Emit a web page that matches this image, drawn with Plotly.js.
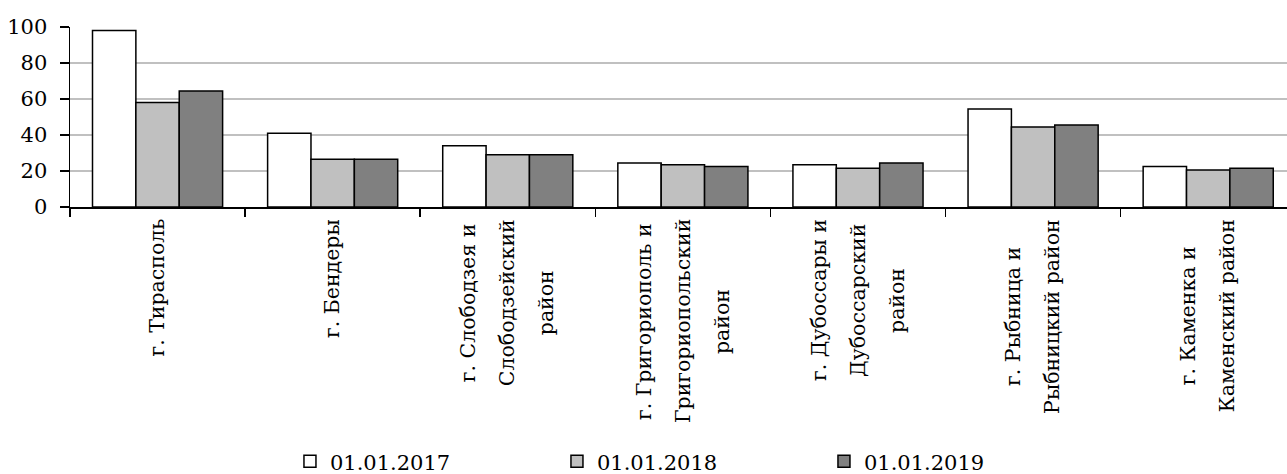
<!DOCTYPE html>
<html>
<head>
<meta charset="utf-8">
<script src="https://cdn.plot.ly/plotly-3.0.1.min.js"></script>
<style>
html,body{margin:0;padding:0;background:#fff;}
#chart{width:1287px;height:474px;}
</style>
</head>
<body>
<div id="chart"></div>
<script>
// ---- data ----
const categories = [
  "г. Тирасполь",
  "г. Бендеры",
  "г. Слободзея и Слободзейский район",
  "г. Григориополь и Григориопольский район",
  "г. Дубоссары и Дубоссарский район",
  "г. Рыбница и Рыбницкий район",
  "г. Каменка и Каменский район"
];
const labelLines = [
  ["г. Тирасполь"],
  ["г. Бендеры"],
  ["г. Слободзея и", "Слободзейский", "район"],
  ["г. Григориополь и", "Григориопольский", "район"],
  ["г. Дубоссары и", "Дубоссарский", "район"],
  ["г. Рыбница и", "Рыбницкий район"],
  ["г. Каменка и", "Каменский район"]
];
const seriesNames = ["01.01.2017", "01.01.2018", "01.01.2019"];
const values2017 = [98, 41, 34, 24.5, 23.5, 54.5, 22.5];
const values2018 = [58, 26.5, 29, 23.5, 21.5, 44.5, 20.5];
const values2019 = [64.5, 26.5, 29, 22.5, 24.5, 45.5, 21.5];
const yTicks = [0, 20, 40, 60, 80, 100];

// ---- styling ----
const FONT = "'DejaVu Serif', 'Liberation Serif', serif";
const fills = ["#ffffff", "#c0c0c0", "#808080"];
const allValues = [values2017, values2018, values2019];

const traces = allValues.map((v, k) => ({
  type: "bar",
  name: seriesNames[k],
  x: categories,
  y: v,
  marker: {color: fills[k], line: {color: "#000000", width: 1.5}},
  hoverinfo: "skip"
}));

// measure text to center lines of each multi-line label
const cv = document.createElement("canvas").getContext("2d");
const labelSize = 20.5;
cv.font = labelSize + "px " + FONT;
const annotations = [];
labelLines.forEach((lines, i) => {
  const maxLen = Math.max(...lines.map(s => cv.measureText(s).width));
  const n = lines.length;
  lines.forEach((s, j) => {
    annotations.push({
      x: categories[i], xref: "x",
      y: 0, yref: "paper",
      text: s,
      textangle: -90,
      showarrow: false,
      xanchor: "center", yanchor: "middle",
      xshift: (j - (n - 1) / 2) * 39,
      yshift: -(12 + maxLen / 2),
      font: {family: FONT, size: labelSize, color: "#000"}
    });
  });
});

const layout = {
  width: 1287, height: 474,
  margin: {l: 70, r: 0, t: 27, b: 267, pad: 0},
  paper_bgcolor: "#fff", plot_bgcolor: "#fff",
  font: {family: FONT, color: "#000"},
  barmode: "group",
  bargap: 0.257,
  bargroupgap: 0,
  showlegend: true,
  legend: {
    orientation: "h",
    xref: "container", yref: "container",
    x: 0.2253, xanchor: "left",
    y: 0.026, yanchor: "middle",
    font: {family: FONT, size: 21, color: "#000"},
    entrywidth: 222, entrywidthmode: "pixels",
    traceorder: "normal",
    bgcolor: "rgba(0,0,0,0)"
  },
  xaxis: {
    type: "category",
    range: [-0.5, 6.45],
    showticklabels: false,
    ticks: "outside", tickson: "boundaries",
    ticklen: 8, tickwidth: 1.5, tickcolor: "#000",
    showline: true, linecolor: "#000", linewidth: 1.5,
    showgrid: false, zeroline: false, fixedrange: true
  },
  yaxis: {
    range: [0, 100],
    tickvals: yTicks,
    ticktext: yTicks.map(String),
    ticks: "outside", ticklen: 9, tickwidth: 1.5, tickcolor: "#000",
    ticklabelstandoff: 8,
    tickfont: {family: FONT, size: 21, color: "#000"},
    showline: true, linecolor: "#000", linewidth: 1.5,
    showgrid: true, gridcolor: "#c0c0c0", gridwidth: 1.5,
    zeroline: false, fixedrange: true
  },
  shapes: [{
    type: "line", layer: "between",
    xref: "paper", x0: 0.002, x1: 1,
    yref: "y", y0: 100, y1: 100,
    line: {color: "#ffffff", width: 3}
  }],
  annotations: annotations
};

Plotly.newPlot("chart", traces, layout, {staticPlot: true, displayModeBar: false});
</script>
</body>
</html>
